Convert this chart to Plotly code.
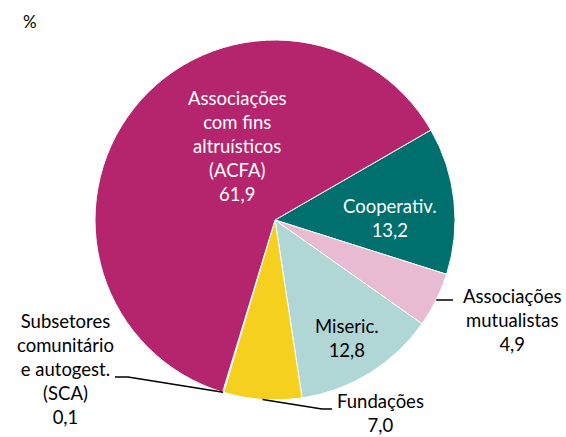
import numpy as np
import plotly.graph_objects as go

# Setor da economia social - peso (%)
labels = ['Cooperativ.', 'Associações mutualistas', 'Miseric.', 'Fundações',
          'Subsetores comunitário e autogest. (SCA)', 'Associações com fins altruísticos (ACFA)']
values = [13.2, 4.9, 12.8, 7.0, 0.1, 61.9]
value_text = ['13,2', '4,9', '12,8', '7,0', '0,1', '61,9']
colors = ['#00706F', '#E8BBD3', '#B1D6D6', '#F5D01E', '#C8C8C8', '#B5256E']

W, H = 566, 437
cx, cy, r = 275, 220, 180
rotation = 60
FONT = 'Lato'

fig = go.Figure()
fig.add_trace(go.Pie(
    labels=labels, values=values, sort=False, direction='clockwise',
    rotation=rotation, textinfo='none', hoverinfo='label+value',
    marker=dict(colors=colors, line=dict(color='white', width=1)),
    domain=dict(x=[(cx - r) / W, (cx + r) / W], y=[1 - (cy + r) / H, 1 - (cy - r) / H]),
    showlegend=False,
))

# angle do meio de cada fatia (graus, sentido horário a partir do topo)
tot = sum(values)
cum = np.cumsum([0] + values)
mid = {lab: rotation + (cum[i] + values[i] / 2) / tot * 360 for i, lab in enumerate(labels)}

def edge(lab):
    a = np.radians(mid[lab])
    return cx + r * np.sin(a), cy - r * np.cos(a)

def px(x, y):
    return x / W, 1 - y / H

# leader lines
leaders = [
    (labels[4], [(128, 377), (115, 377)]),
    (labels[3], [(322, 409), (332, 409)]),
    (labels[1], [(453, 300)]),
]
for lab, pts in leaders:
    p = [edge(lab)] + pts
    path = 'M ' + ' L '.join('%.4f,%.4f' % px(x, y) for x, y in p)
    fig.add_shape(type='path', path=path, xref='paper', yref='paper',
                  line=dict(color='black', width=1.5))

# text labels
txt = [
    ('Associações<br>com fins<br>altruísticos<br>(ACFA)<br>' + value_text[5], 237, 146, 'white'),
    ('Cooperativ.<br>' + value_text[0], 390, 218, 'white'),
    ('Miseric.<br>' + value_text[2], 347, 338, 'black'),
    ('Associações<br>mutualistas<br>' + value_text[1], 512, 320, 'black'),
    ('Fundações<br>' + value_text[3], 380, 413, 'black'),
    ('Subsetores<br>comunitário<br>e autogest.<br>(SCA)<br>' + value_text[4], 65, 369, 'black'),
    ('%', 30, 22, 'black'),
]
for t, x, y, c in txt:
    ax, ay = px(x, y)
    fig.add_annotation(text=t, x=ax, y=ay, xref='paper', yref='paper', showarrow=False,
                       xanchor='center', yanchor='middle', align='center',
                       font=dict(family=FONT, size=18.5 if t != '%' else 17, color=c))

fig.update_layout(width=W, height=H, margin=dict(l=0, r=0, t=0, b=0),
                  paper_bgcolor='white', plot_bgcolor='white')

fig.write_html('out.html', config={'displayModeBar': False},
               post_script="document.body.style.margin='0';")
